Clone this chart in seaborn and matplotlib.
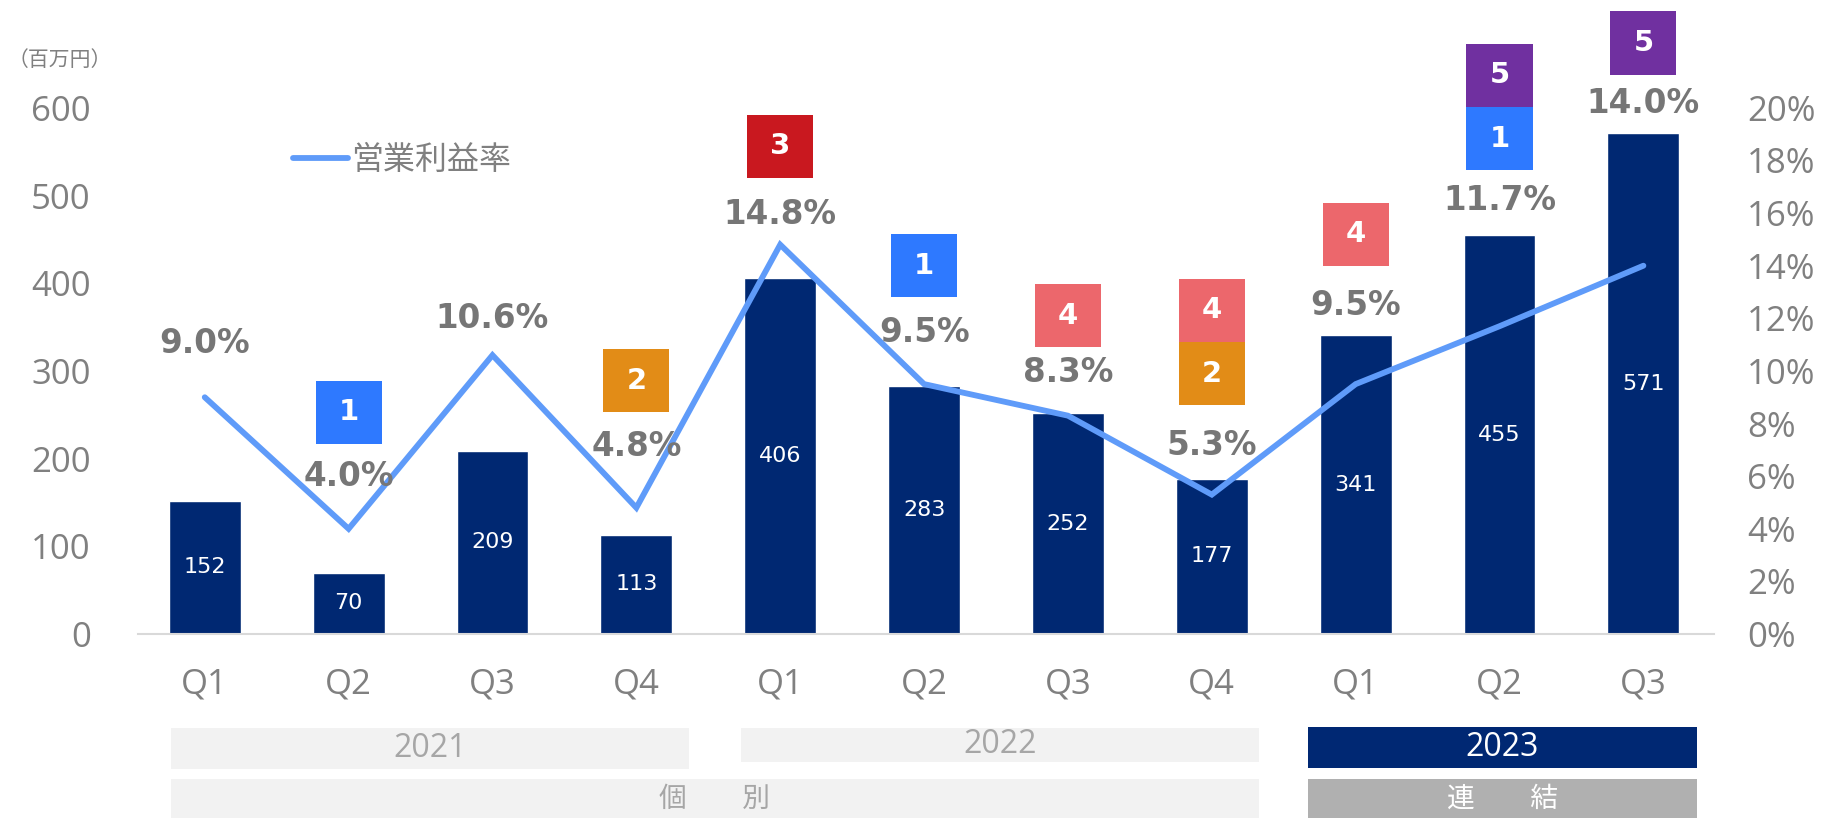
import numpy as np
import pandas as pd
import matplotlib
matplotlib.use('Agg')
import matplotlib.pyplot as plt
import matplotlib.transforms as mtransforms
from matplotlib.patches import Rectangle
from matplotlib.lines import Line2D
import seaborn as sns

# data
quarters = ['Q1', 'Q2', 'Q3', 'Q4', 'Q1', 'Q2', 'Q3', 'Q4', 'Q1', 'Q2', 'Q3']
profit = [152, 70, 209, 113, 406, 283, 252, 177, 341, 455, 571]
margin = [9.0, 4.0, 10.6, 4.8, 14.8, 9.5, 8.3, 5.3, 9.5, 11.7, 14.0]
badges = [[], ['1'], [], ['2'], ['3'], ['1'], ['4'], ['2', '4'], ['4'], ['1', '5'], ['5']]
years = ['2021', '2022', '2023']
segments = ['個　　別', '連　　結']
legend_label = '営業利益率'
unit_label = '（百万円）'

# layout (left axis units / figure fractions)
badge_base = [0, 217, 0, 253, 520, 384, 327, 261, 420, 529, 638]
badge_h = 72
pct_label_y = [331, 180, 360, 214, 478, 344, 298, 215, 375, 494, 605]
badge_colors = {'1': '#2E79FF', '2': '#E28C17', '3': '#C9181F', '4': '#EC676C', '5': '#7030A0'}
year_x = [(-0.235, 3.365), (3.727, 7.326), (7.666, 10.376)]
year_y = [(0.0599, 0.050), (0.0685, 0.0416), (0.0611, 0.0501)]
year_fc = ['#F2F2F2', '#F2F2F2', '#002873']
year_tc = ['#A6A6A6', '#A6A6A6', 'white']
seg_x = [(-0.235, 7.326), (7.666, 10.376)]
seg_fc = ['#F2F2F2', '#B0B0B0']
seg_tc = ['#A6A6A6', 'white']

sns.set_theme(style='white')
plt.rcParams['font.family'] = ['Noto Sans CJK JP', 'DejaVu Sans']
tick_font = ['Open Sans', 'DejaVu Sans']

df = pd.DataFrame({'pos': range(len(profit)), 'profit': profit, 'margin': margin})

fig = plt.figure(figsize=(18.35, 8.18), dpi=100)
ax = fig.add_axes([0.0752, 0.2249, 0.8588, 0.7719])
sns.barplot(data=df, x='pos', y='profit', color='#002872', width=0.5,
            saturation=1, ax=ax)

ax2 = ax.twinx()
sns.lineplot(data=df, x='pos', y='margin', color='#5F9BF9', lw=4.2, ax=ax2)
for ln in ax2.lines:
    ln.set_solid_capstyle('round')
    ln.set_solid_joinstyle('miter')

ax.set_ylim(0, 720)
ax2.set_ylim(0, 24)
ax.set_xlim(-0.464, 10.49)
ax2.set_xlim(-0.464, 10.49)

for a in (ax, ax2):
    for s in a.spines.values():
        s.set_visible(False)
    a.set_xlabel('')
    a.set_ylabel('')
ax.spines['bottom'].set_visible(True)
ax.spines['bottom'].set_color('#D9D9D9')
ax.spines['bottom'].set_linewidth(1.5)

ax.set_yticks(range(0, 601, 100))
ax.set_yticklabels([str(t) for t in range(0, 601, 100)])
ax2.set_yticks(range(0, 21, 2))
ax2.set_yticklabels([f'{t}%' for t in range(0, 21, 2)])
ax.set_xticks(range(len(quarters)))
ax.set_xticklabels(quarters)
ax.tick_params(axis='y', length=0, pad=34, labelsize=25, labelcolor='#808080')
ax.tick_params(axis='x', length=0, pad=24, labelsize=25, labelcolor='#808080')
ax2.tick_params(axis='y', length=0, pad=24, labelsize=25, labelcolor='#808080')
for lab in ax.get_xticklabels() + ax.get_yticklabels() + ax2.get_yticklabels():
    lab.set_family(tick_font)

# bar values
for i, v in enumerate(profit):
    ax.text(i, v / 2, str(v), ha='center', va='center', color='white',
            fontsize=16, family='DejaVu Sans')

# margin labels
for i, m in enumerate(margin):
    ax2.text(i, pct_label_y[i], f'{m:.1f}%', transform=ax.transData,
             ha='center', va='center', color='#767676', fontsize=23.5,
             fontweight='bold', family='DejaVu Sans', zorder=5)

# badges
for i, bl in enumerate(badges):
    for k, b in enumerate(bl):
        y0 = badge_base[i] + k * badge_h
        ax2.add_patch(Rectangle((i - 0.23, y0), 0.46, badge_h, transform=ax.transData,
                                facecolor=badge_colors[b], edgecolor='none',
                                clip_on=False, zorder=4))
        ax2.text(i, y0 + badge_h / 2, b, transform=ax.transData, ha='center',
                 va='center', color='white', fontsize=21, fontweight='bold',
                 family='DejaVu Sans', zorder=6)

# legend
handle = Line2D([0], [0], color='#5F9BF9', lw=4.2, solid_capstyle='round')
leg = fig.legend([handle], [legend_label], loc='center left',
                 bbox_to_anchor=(0.1597, 0.8044), frameon=False, borderpad=0,
                 borderaxespad=0, handlelength=1.72, handletextpad=0.1, fontsize=23)
for t in leg.get_texts():
    t.set_color('#808080')

fig.text(8 / 1835, 1 - 60 / 818, unit_label, ha='left', va='center',
         fontsize=15, color='#808080')

# year / segment boxes below axis
trans = mtransforms.blended_transform_factory(ax.transData, fig.transFigure)
for (x0, x1), (y0, h), fc, tc, yr in zip(year_x, year_y, year_fc, year_tc, years):
    ax.add_patch(Rectangle((x0, y0), x1 - x0, h, transform=trans, facecolor=fc,
                           edgecolor='none', clip_on=False))
    ax.text((x0 + x1) / 2, y0 + h / 2, yr, transform=trans, ha='center',
            va='center', fontsize=23, color=tc, family=tick_font)
for (x0, x1), fc, tc, sg in zip(seg_x, seg_fc, seg_tc, segments):
    ax.add_patch(Rectangle((x0, 0), x1 - x0, 0.0477, transform=trans, facecolor=fc,
                           edgecolor='none', clip_on=False))
    ax.text((x0 + x1) / 2, 0.0477 / 2, sg, transform=trans, ha='center',
            va='center', fontsize=20, color=tc)

fig.savefig('out.png', dpi=100)
